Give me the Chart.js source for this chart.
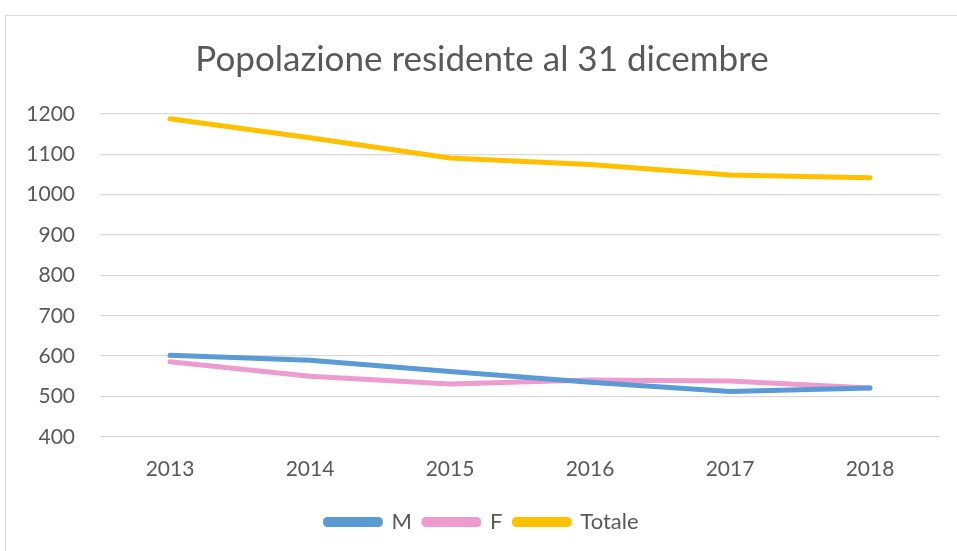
<!DOCTYPE html>
<html lang="it">
<head>
    <meta charset="UTF-8">
    <title>Popolazione residente al 31 dicembre</title>
    <style>
        body {
            margin: 0;
            padding: 0;
            background-color: #fff;
            overflow: hidden;
        }

        .frame {
            position: absolute;
            left: 5px;
            top: 15px;
            width: 970px;
            height: 560px;
            border: 1px solid #d9d9d9;
            box-sizing: border-box;
        }

        .wrap {
            position: absolute;
            left: 0;
            top: 0;
            width: 957px;
            height: 551px;
        }
    </style>
</head>
<body>
    <div class="frame"></div>
    <div class="wrap">
        <canvas id="myChart" width="957" height="551"></canvas>
    </div>

    <script src="https://cdn.jsdelivr.net/npm/chart.js"></script>
    <script>
        const years = ['2013', '2014', '2015', '2016', '2017', '2018'];
        const maschi = [602, 590, 562, 535, 512, 521];
        const femmine = [586, 550, 531, 541, 538, 521];
        const totale = [1188, 1141, 1091, 1075, 1049, 1042];

        const textColor = '#595959';
        const gridColor = '#d9d9d9';

        function serie(label, data, color) {
            return {
                label: label,
                data: data,
                borderColor: color,
                backgroundColor: color,
                borderWidth: 5,
                borderCapStyle: 'round',
                borderJoinStyle: 'round',
                pointRadius: 0,
                pointHoverRadius: 0,
                tension: 0,
                fill: false
            };
        }

        const ctx = document.getElementById('myChart').getContext('2d');

        new Chart(ctx, {
            type: 'line',
            data: {
                labels: years,
                datasets: [
                    serie('M', maschi, '#5B9BD5'),
                    serie('F', femmine, '#EE9CCF'),
                    serie('Totale', totale, '#FFC000')
                ]
            },
            options: {
                responsive: false,
                animation: false,
                layout: {
                    padding: { top: 22, right: 17, bottom: 8, left: 24 }
                },
                plugins: {
                    title: {
                        display: true,
                        text: 'Popolazione residente al 31 dicembre',
                        color: textColor,
                        font: { family: 'Lato', size: 35, weight: 'normal' },
                        padding: { top: 17, bottom: 33 }
                    },
                    legend: {
                        position: 'bottom',
                        labels: {
                            color: textColor,
                            font: { family: 'Lato', size: 22 },
                            boxWidth: 55,
                            boxHeight: 5,
                            useBorderRadius: true,
                            borderRadius: 2,
                            padding: 12
                        }
                    },
                    tooltip: { enabled: false }
                },
                scales: {
                    x: {
                        offset: true,
                        afterFit: function (scale) { scale.height -= 3; },
                        grid: { display: false, drawTicks: false },
                        border: { display: false },
                        ticks: {
                            color: textColor,
                            font: { family: 'Lato', size: 21 },
                            padding: 20
                        }
                    },
                    y: {
                        min: 400,
                        max: 1200,
                        afterFit: function (scale) { scale.width = 76; },
                        grid: { color: gridColor, lineWidth: 1.3, drawTicks: false },
                        border: { display: false },
                        ticks: {
                            stepSize: 100,
                            color: textColor,
                            font: { family: 'Lato', size: 21 },
                            padding: 25,
                            callback: function (v) { return String(v); }
                        }
                    }
                }
            }
        });
    </script>
</body>
</html>
